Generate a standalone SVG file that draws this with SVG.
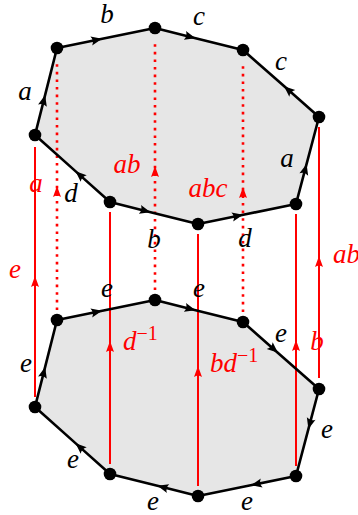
<svg xmlns="http://www.w3.org/2000/svg" width="358" height="515" viewBox="0 0 358 515">
<defs>
<style>
.face{fill:#e6e6e6;stroke:none}
.edge{fill:none;stroke:#000;stroke-width:2.6;stroke-linejoin:round;marker-mid:url(#ab)}
.rs{fill:none;stroke:#ff0000;stroke-width:2;marker-mid:url(#ar)}
.rd{fill:none;stroke:#ff0000;stroke-width:2.6;stroke-dasharray:2.6 5;marker-mid:url(#ar)}
.v{fill:#000}
text{font-family:"Liberation Serif","DejaVu Serif",serif;font-style:italic;font-size:27px;text-anchor:middle}
.lk{fill:#000}
.lr{fill:#ff0000}
.sup{font-style:normal;font-size:20px}
</style>
<marker id="ab" markerUnits="userSpaceOnUse" viewBox="-12 -6 14 12" refX="0" refY="0" markerWidth="14" markerHeight="12" orient="auto">
<path d="M1,0 L-10,-4.5 Q-7,0 -10,4.5 Z" fill="#000"/>
</marker>
<marker id="ar" markerUnits="userSpaceOnUse" viewBox="-12 -6 14 12" refX="0" refY="0" markerWidth="14" markerHeight="12" orient="auto">
<path d="M1,0 L-10,-4 Q-7,0 -10,4 Z" fill="#ff0000"/>
</marker>
</defs>

<g id="top-face">
<polygon class="face" points="57,48 155,28 243,50 319,117 296,204 198,224 110,202 35,135"/>
</g>
<g id="bottom-face">
<polygon class="face" points="57,320 155,300 243,322 319,389 296,476 198,496 110,474 35,407"/>
</g>

<g id="connectors">
<path class="rs" d="M35,397 L35,277 L35,147"/>
<path class="rd" d="M57,310 L57,187 L57,60"/>
<path class="rs" d="M110,464 L110,342 L110,212"/>
<path class="rd" d="M155,290 L155,167 L155,40"/>
<path class="rs" d="M198,486 L198,367 L198,234"/>
<path class="rd" d="M243,312 L243,188 L243,62"/>
<path class="rs" d="M296,466 L296,341 L296,214"/>
<path class="rs" d="M319,378 L319,257 L319,127"/>

<path class="edge" d="M35,135 L44.9,95.85 L57,48"/>
<path class="edge" d="M57,48 L101.1,39 L155,28"/>
<path class="edge" d="M155,28 L194.6,37.9 L243,50"/>
<path class="edge" d="M319,117 L284.8,86.85 L243,50"/>
<path class="edge" d="M296,204 L306.35,164.85 L319,117"/>
<path class="edge" d="M198,224 L242.1,215 L296,204"/>
<path class="edge" d="M110,202 L149.6,211.9 L198,224"/>
<path class="edge" d="M110,202 L76.25,171.85 L35,135"/>

<path class="edge" d="M35,407 L44.9,367.85 L57,320"/>
<path class="edge" d="M57,320 L101.1,311 L155,300"/>
<path class="edge" d="M155,300 L194.6,309.9 L243,322"/>
<path class="edge" d="M243,322 L277.2,352.15 L319,389"/>
<path class="edge" d="M319,389 L308.65,428.15 L296,476"/>
<path class="edge" d="M296,476 L251.9,485 L198,496"/>
<path class="edge" d="M198,496 L158.4,486.1 L110,474"/>
<path class="edge" d="M110,474 L76.25,443.85 L35,407"/>
</g>

<g id="top-vertices">
<circle class="v" cx="57" cy="48" r="6.3"/>
<circle class="v" cx="155" cy="28" r="6.3"/>
<circle class="v" cx="243" cy="50" r="6.3"/>
<circle class="v" cx="319" cy="117" r="6.3"/>
<circle class="v" cx="296" cy="204" r="6.3"/>
<circle class="v" cx="198" cy="224" r="6.3"/>
<circle class="v" cx="110" cy="202" r="6.3"/>
<circle class="v" cx="35" cy="135" r="6.3"/>
</g>
<g id="bottom-vertices">
<circle class="v" cx="57" cy="320" r="6.3"/>
<circle class="v" cx="155" cy="300" r="6.3"/>
<circle class="v" cx="243" cy="322" r="6.3"/>
<circle class="v" cx="319" cy="389" r="6.3"/>
<circle class="v" cx="296" cy="476" r="6.3"/>
<circle class="v" cx="198" cy="496" r="6.3"/>
<circle class="v" cx="110" cy="474" r="6.3"/>
<circle class="v" cx="35" cy="407" r="6.3"/>
</g>

<g id="top-labels">
<text class="lk" x="25" y="100">a</text>
<text class="lk" x="107" y="23">b</text>
<text class="lk" x="199" y="25">c</text>
<text class="lk" x="281" y="70">c</text>
<text class="lk" x="287" y="167">a</text>
<text class="lk" x="245" y="247">d</text>
<text class="lk" x="154" y="248">b</text>
<text class="lk" x="71" y="202">d</text>
</g>
<g id="bottom-labels">
<text class="lk" x="26" y="372">e</text>
<text class="lk" x="107" y="297">e</text>
<text class="lk" x="199" y="297">e</text>
<text class="lk" x="281" y="342">e</text>
<text class="lk" x="327" y="438">e</text>
<text class="lk" x="247" y="510">e</text>
<text class="lk" x="153" y="510">e</text>
<text class="lk" x="73" y="468">e</text>
</g>
<g id="red-labels">
<text class="lr" x="36" y="192">a</text>
<text class="lr" x="15" y="278">e</text>
<text class="lr" x="127" y="173">ab</text>
<text class="lr" x="208" y="197">abc</text>
<text class="lr" x="333" y="263" style="text-anchor:start">ab</text>
<text class="lr" x="317" y="350">b</text>
<text class="lr" x="123" y="350" style="text-anchor:start">d<tspan class="sup" dy="-10">−1</tspan></text>
<text class="lr" x="210" y="372" style="text-anchor:start">bd<tspan class="sup" dy="-10">−1</tspan></text>
</g>
</svg>
